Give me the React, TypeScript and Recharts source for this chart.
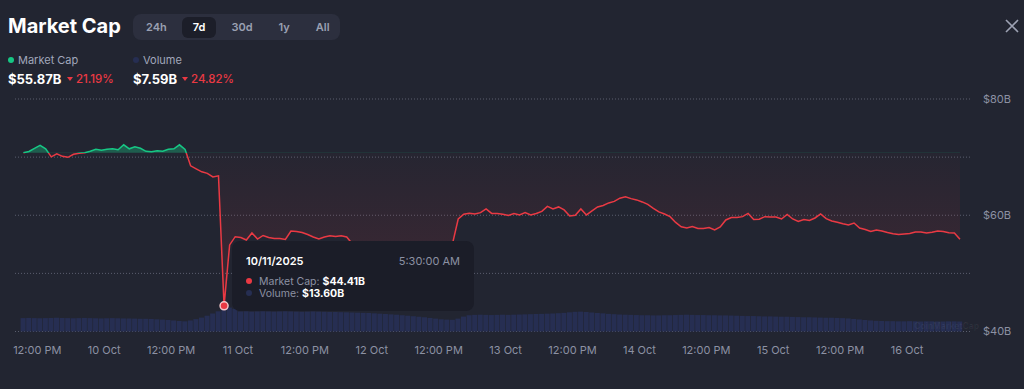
import {
  ComposedChart,
  Area,
  Bar,
  XAxis,
  YAxis,
  CartesianGrid,
  Tooltip,
} from 'recharts';

// hourly samples, first one at 9 Oct 9:30 AM (hours counted from 9 Oct 00:00)
const START_HOUR = 9.5;
const TOOLTIP_TZ_OFFSET = 8;

const marketCap = [
  70.75, 70.97, 71.52, 72.03, 71.43, 70.05, 70.57, 70.14, 69.97, 70.48,
  70.66, 70.74, 71.0, 71.34, 71.17, 71.34, 71.43, 71.26, 72.12, 71.43,
  71.78, 71.52, 71.0, 70.91, 71.09, 71.03, 71.34, 71.43, 72.12, 71.34,
  68.5, 67.98, 67.47, 67.21, 66.6, 66.78, 44.41, 54.9, 56.31, 56.17,
  55.74, 56.95, 55.91, 56.52, 56.17, 56.0, 56.0, 55.83, 57.29, 57.21,
  57.03, 56.69, 56.26, 55.91, 56.26, 56.48, 56.34, 56.48, 56.26, 55.1,
  54.8, 54.6, 54.9, 55.2, 54.9, 54.5, 54.3, 54.6, 54.9, 55.1,
  54.8, 54.7, 55.0, 55.3, 55.0, 54.8, 55.1, 55.2, 59.36, 60.17,
  60.34, 60.22, 60.45, 61.09, 60.31, 60.28, 60.17, 59.97, 60.31, 60.05,
  60.48, 60.05, 60.31, 60.66, 61.52, 61.09, 61.43, 60.91, 59.88, 60.0,
  61.09, 60.05, 60.74, 61.43, 61.69, 62.12, 62.38, 62.93, 63.16, 62.86,
  62.64, 62.29, 61.86, 61.17, 60.57, 60.22, 59.76, 58.76, 58.02, 57.81,
  58.07, 57.72, 57.72, 57.9, 57.47, 57.98, 59.19, 59.62, 59.62, 59.76,
  60.31, 59.28, 59.31, 59.76, 59.71, 59.71, 59.36, 60.14, 59.36, 58.93,
  59.28, 59.1, 59.53, 60.22, 59.41, 59.02, 58.79, 58.53, 58.33, 58.67,
  57.81, 57.55, 57.21, 57.47, 57.29, 57.03, 56.81, 56.67, 56.78, 56.86,
  57.12, 57.12, 56.95, 57.07, 57.29, 57.21, 57.0, 56.95, 55.87,
];

const volume = [
  7.9, 8.0, 7.9, 7.8, 7.9, 8.0, 8.1, 8.0, 7.9, 7.8,
  7.9, 8.0, 7.9, 7.8, 7.7, 7.8, 7.9, 7.8, 7.7, 7.6,
  7.6, 7.5, 7.5, 7.4, 7.2, 7.0, 6.8, 6.5, 6.2, 6.0,
  6.5, 7.3, 8.2, 9.3, 10.6, 11.9, 13.6, 14.1, 13.4,
  11.8, 11.9, 11.7, 11.8, 11.9, 11.8, 11.7, 11.8, 11.9, 11.8,
  11.7, 11.6, 11.7, 11.8, 11.7, 11.6, 11.5, 11.5, 11.4, 11.3,
  11.2, 11.1, 11.0, 10.9, 10.7, 10.5, 10.3, 10.1, 9.9, 9.6,
  9.3, 9.0, 8.7, 8.4, 8.0, 7.6, 7.2, 7.0,
  6.9, 7.6, 8.8, 9.6, 9.8, 9.9, 9.8, 9.7, 9.8, 9.9, 9.8, 9.9,
  10.0, 10.1, 10.2, 10.3, 10.4,
  10.5, 10.6, 10.8, 11.0, 11.3,
  11.6, 11.7, 11.5,
  11.2, 10.9, 10.7,
  10.4, 10.2, 10.0, 9.9, 9.8,
  9.7, 9.6, 9.6, 9.5, 9.5, 9.6, 9.6, 9.7, 9.8, 9.9, 9.8, 9.7,
  9.7, 9.6, 9.6, 9.5, 9.5, 9.4, 9.3,
  9.2, 9.1, 9.1, 9.0, 8.9, 8.9, 8.8,
  8.7, 8.7, 8.6, 8.5, 8.4, 8.4, 8.3,
  8.2, 8.1, 8.1, 8.0, 7.9, 7.7,
  7.4, 7.1, 6.8, 6.5, 6.3,
  6.2, 6.1, 6.1, 6.0, 6.0, 6.1, 6.0, 5.9, 6.0, 6.0, 5.9, 5.9, 6.0, 6.0, 5.9,
];

const xTicks = [12, 24, 36, 48, 60, 72, 84, 96, 108, 120, 132, 144, 156, 168];
const yTicks = [40, 50, 60, 70, 80];
const tabs = ['24h', '7d', '30d', '1y', 'All'];
const ACTIVE_TAB = '7d';

const GREEN = '#16c784';
const RED = '#ea3943';
const NAVY = '#262e52';
const BG = '#222531';
const MUTED = '#8c91a3';
const FONT = 'Inter, "Noto Sans", sans-serif';

const data = marketCap.map((mc, i) => ({ t: START_HOUR + i, mc, vol: volume[i] }));
const baseline = marketCap[0];
const mcMax = Math.max(...marketCap);
const mcMin = Math.min(...marketCap);
const splitOffset = (mcMax - baseline) / (mcMax - mcMin);
const lowIndex = marketCap.indexOf(mcMin);

function formatXTick(t: number) {
  if (t % 24 === 12) return '12:00 PM';
  return `${9 + t / 24} Oct`;
}

function formatYTick(v: number) {
  return v % 20 === 0 ? `$${v}B` : '';
}

function tooltipStamp(t: number) {
  const h = t + TOOLTIP_TZ_OFFSET;
  const day = 9 + Math.floor(h / 24);
  const hod = h % 24;
  const hr = Math.floor(hod);
  const min = Math.round((hod - hr) * 60);
  const h12 = hr % 12 === 0 ? 12 : hr % 12;
  return {
    date: `10/${day}/2025`,
    time: `${h12}:${String(min).padStart(2, '0')}:00 ${hr < 12 ? 'AM' : 'PM'}`,
  };
}

function Dot({ color, size = 6 }: { color: string; size?: number }) {
  return (
    <span
      style={{
        display: 'inline-block',
        width: size,
        height: size,
        borderRadius: '50%',
        background: color,
        flexShrink: 0,
      }}
    />
  );
}

function ChartTooltip({ active, payload }: any) {
  if (!active || !payload || !payload.length) return null;
  const row = payload[0].payload;
  const stamp = tooltipStamp(row.t);
  const line = { display: 'flex', alignItems: 'center', height: 12, fontSize: 10.5 };
  return (
    <div
      style={{
        width: 242,
        height: 70,
        boxSizing: 'border-box',
        padding: '13px 14px 0 14px',
        background: '#1b1d28',
        borderRadius: 8,
        fontFamily: FONT,
      }}
    >
      <div style={{ display: 'flex', justifyContent: 'space-between', lineHeight: '14px', fontSize: 11 }}>
        <span style={{ color: '#fff', fontWeight: 600 }}>{stamp.date}</span>
        <span style={{ color: MUTED }}>{stamp.time}</span>
      </div>
      <div style={{ ...line, marginTop: 7 }}>
        <Dot color={RED} />
        <span style={{ color: MUTED, marginLeft: 7 }}>Market Cap:</span>
        <span style={{ color: '#fff', fontWeight: 700, marginLeft: 3 }}>${row.mc.toFixed(2)}B</span>
      </div>
      <div style={line}>
        <Dot color={NAVY} />
        <span style={{ color: MUTED, marginLeft: 7 }}>Volume:</span>
        <span style={{ color: '#fff', fontWeight: 700, marginLeft: 3 }}>${row.vol.toFixed(2)}B</span>
      </div>
    </div>
  );
}

function DownTriangle() {
  return (
    <span
      style={{
        display: 'inline-block',
        width: 0,
        height: 0,
        borderLeft: '3.5px solid transparent',
        borderRight: '3.5px solid transparent',
        borderTop: `4.5px solid ${RED}`,
        marginRight: 3,
      }}
    />
  );
}

export default function App() {
  return (
    <div
      style={{
        position: 'absolute',
        left: 0,
        top: 0,
        width: 1024,
        height: 389,
        background: BG,
        fontFamily: FONT,
        overflow: 'hidden',
      }}
    >
      <div
        style={{
          position: 'absolute',
          left: 8,
          top: 14,
          height: 24,
          lineHeight: '24px',
          fontSize: 20,
          fontWeight: 700,
          color: '#fff',
        }}
      >
        Market Cap
      </div>

      <div
        style={{
          position: 'absolute',
          left: 133,
          top: 14,
          width: 207,
          height: 26,
          boxSizing: 'border-box',
          padding: '2.5px 2px',
          background: '#2c2f3e',
          borderRadius: 8,
          display: 'flex',
          gap: 4,
        }}
      >
        {tabs.map((tab) => (
          <span
            key={tab}
            style={{
              padding: '0 11px',
              height: 21,
              lineHeight: '21px',
              fontSize: 11,
              fontWeight: 600,
              borderRadius: 6,
              color: tab === ACTIVE_TAB ? '#fff' : '#9aa0b2',
              background: tab === ACTIVE_TAB ? '#1c1e29' : 'transparent',
            }}
          >
            {tab}
          </span>
        ))}
      </div>

      <svg style={{ position: 'absolute', left: 1005, top: 19 }} width={14} height={14}>
        <path d="M1 1 L13 13 M13 1 L1 13" stroke="#9da2b3" strokeWidth={1.6} />
      </svg>

      <div style={{ position: 'absolute', left: 8, top: 53, display: 'flex', alignItems: 'center', height: 14, fontSize: 11, color: '#a1a7bb' }}>
        <Dot color={GREEN} />
        <span style={{ marginLeft: 4 }}>Market Cap</span>
      </div>
      <div style={{ position: 'absolute', left: 133, top: 53, display: 'flex', alignItems: 'center', height: 14, fontSize: 11, color: '#a1a7bb' }}>
        <Dot color={NAVY} />
        <span style={{ marginLeft: 4 }}>Volume</span>
      </div>

      <div style={{ position: 'absolute', left: 8, top: 71, height: 16, lineHeight: '16px', fontSize: 13, fontWeight: 700, color: '#fff' }}>
        $55.87B
      </div>
      <div style={{ position: 'absolute', left: 67, top: 71, height: 16, display: 'flex', alignItems: 'center', fontSize: 11.5, fontWeight: 500, color: RED }}>
        <DownTriangle />
        21.19%
      </div>
      <div style={{ position: 'absolute', left: 133, top: 71, height: 16, lineHeight: '16px', fontSize: 13, fontWeight: 700, color: '#fff' }}>
        $7.59B
      </div>
      <div style={{ position: 'absolute', left: 182, top: 71, height: 16, display: 'flex', alignItems: 'center', fontSize: 11.5, fontWeight: 500, color: RED }}>
        <DownTriangle />
        24.82%
      </div>

      <div style={{ position: 'absolute', left: 0, top: 0 }}>
        <ComposedChart
          width={1024}
          height={389}
          data={data}
          margin={{ top: 99, right: 0, left: 15, bottom: 0 }}
        >
          <defs>
            <linearGradient id="mcStroke" x1="0" y1="0" x2="0" y2="1">
              <stop offset={0} stopColor={GREEN} />
              <stop offset={splitOffset} stopColor={GREEN} />
              <stop offset={splitOffset} stopColor={RED} />
              <stop offset={1} stopColor={RED} />
            </linearGradient>
            <linearGradient id="mcFill" x1="0" y1="0" x2="0" y2="1">
              <stop offset={0} stopColor={GREEN} stopOpacity={0.35} />
              <stop offset={splitOffset} stopColor={GREEN} stopOpacity={0.35} />
              <stop offset={splitOffset} stopColor={RED} stopOpacity={0.02} />
              <stop offset={1} stopColor={RED} stopOpacity={0.15} />
            </linearGradient>
          </defs>
          <CartesianGrid yAxisId="mc" vertical={false} stroke="#5a5e6e" strokeDasharray="1 2" />
          <XAxis
            dataKey="t"
            type="number"
            domain={[8, 179.3]}
            ticks={xTicks}
            tickFormatter={formatXTick}
            allowDataOverflow
            axisLine={false}
            tickLine={false}
            height={57.5}
            tickMargin={9}
            tick={{ fill: MUTED, fontSize: 11 }}
          />
          <YAxis
            yAxisId="mc"
            orientation="right"
            domain={[40, 80]}
            ticks={yTicks}
            tickFormatter={formatYTick}
            allowDataOverflow
            axisLine={false}
            tickLine={false}
            width={54}
            tickMargin={7}
            tick={{ fill: MUTED, fontSize: 11 }}
          />
          <YAxis yAxisId="vol" hide domain={[0, 137]} />
          <Bar yAxisId="vol" dataKey="vol" fill={NAVY} barSize={6} isAnimationActive={false} />
          <Area
            yAxisId="mc"
            type="linear"
            dataKey="mc"
            baseValue={baseline}
            stroke="url(#mcStroke)"
            strokeWidth={1.5}
            fill="url(#mcFill)"
            fillOpacity={1}
            dot={false}
            activeDot={{ r: 4, fill: RED, stroke: '#f3c6c9', strokeWidth: 1.5 }}
            isAnimationActive={false}
          />
          <Tooltip
            content={<ChartTooltip />}
            defaultIndex={lowIndex}
            position={{ x: 232, y: 241 }}
            cursor={false}
            isAnimationActive={false}
            wrapperStyle={{ outline: 'none', zIndex: 5 }}
          />
        </ComposedChart>
      </div>

      <div
        style={{
          position: 'absolute',
          left: 914,
          top: 321,
          fontSize: 8.5,
          fontWeight: 700,
          color: 'rgba(255,255,255,0.06)',
        }}
      >
        CoinMarketCap
      </div>
    </div>
  );
}
